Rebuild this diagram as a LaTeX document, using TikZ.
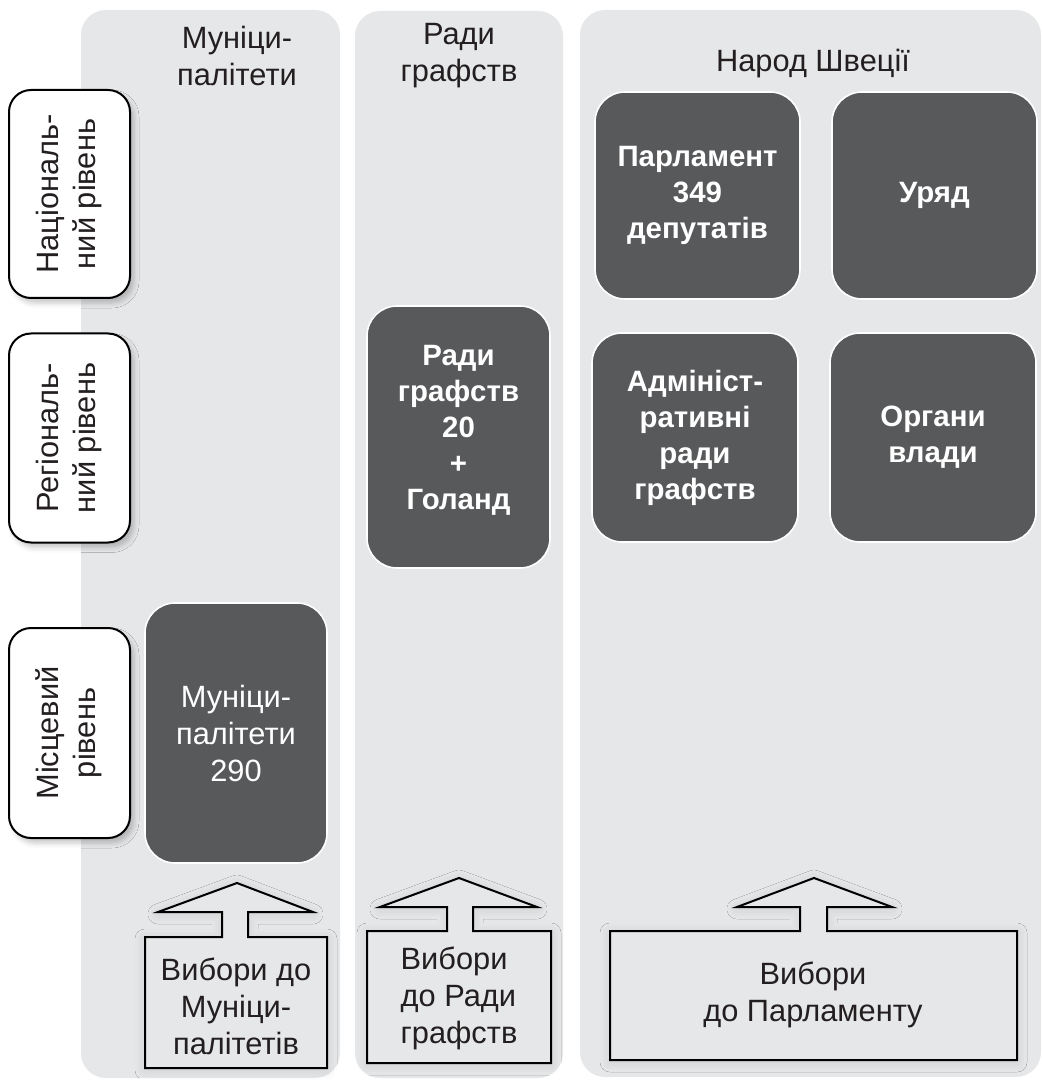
\documentclass[tikz,border=0pt]{standalone}
\usepackage{fontspec}
\setmainfont{Liberation Sans}
\usetikzlibrary{shadows.blur}
\definecolor{panelgray}{HTML}{E6E7E8}
\definecolor{darkbox}{HTML}{58595B}
\definecolor{txtcol}{HTML}{231F20}
\newcommand\fsz{\fontsize{15.4}{18.5}\selectfont}
\newcommand\fszb{\fontsize{14.7}{18}\selectfont\bfseries}
\newcommand\lvltext[1]{\rotatebox{90}{\begin{tabular}{@{}c@{}}#1\end{tabular}}}
\begin{document}
\begin{tikzpicture}[x=0.5pt,y=-0.5pt,
  panel/.style={fill=panelgray, draw=none, rounded corners=12.5pt},
  levelbox/.style={draw=black, line width=1pt, fill=white, rounded corners=11pt,
    inner sep=0pt, font=\fsz, text=txtcol,
    blur shadow={shadow xshift=2pt, shadow yshift=-2.5pt, shadow blur radius=2.5pt, shadow opacity=22}},
  darkb/.style={draw=white, line width=0.8pt, fill=darkbox, rounded corners=15pt,
    inner sep=0pt, align=center, text=white, font=\fszb},
  title/.style={align=center, text=txtcol, font=\fsz, inner sep=0pt},
  votebox/.style={draw=black, line width=1pt, fill=panelgray, line join=miter,
    blur shadow={shadow xshift=0pt, shadow yshift=-1pt, shadow blur radius=5pt, shadow opacity=12}},
  votetext/.style={align=center, text=txtcol, font=\fsz, inner sep=0pt}
]
\useasboundingbox (0,0) rectangle (1041,1080);
\clip (0,0) rectangle (1041,1080);

% panels
\path[panel] (81,10) rectangle (340,1078);
\path[panel] (355,11) rectangle (563,1078);
\path[panel] (580,10) rectangle (1041,1077);

% column titles
\node[title] (t1) at (237,56) {Муніци-\\палітети};
\node[title] (t2) at (459,56) {Ради\\графств};
\node[title] (t3) at (813,64) {Народ Швеції};

% level boxes
\node[levelbox, minimum width=60.5pt, minimum height=104pt] (lnat) at (69.5,194) {\lvltext{Національ-\\ний рівень}};
\node[levelbox, minimum width=60.5pt, minimum height=104.5pt] (lreg) at (69.5,438) {\lvltext{Регіональ-\\ний рівень}};
\node[levelbox, minimum width=60.5pt, minimum height=105pt] (lloc) at (69.5,733) {\lvltext{Місцевий\\рівень}};

% dark boxes
\node[darkb, minimum width=91pt, minimum height=130pt, font=\fsz] (mun) at (236,733) {Муніци-\\палітети\\290};
\node[darkb, minimum width=91.5pt, minimum height=131pt] (cty) at (458.5,437) {Ради\\графств\\20\\+\\Голанд\\[-8.5pt]};
\node[darkb, minimum width=102.5pt, minimum height=103.5pt] (parl) at (697.5,195.5) {Парламент\\349\\депутатів};
\node[darkb, minimum width=102.5pt, minimum height=103.5pt] (gov) at (934.5,195.5) {Уряд};
\node[darkb, minimum width=103pt, minimum height=104.5pt] (adm) at (695,437.5) {Адмініст-\\ративні\\ради\\графств};
\node[darkb, minimum width=103pt, minimum height=104.5pt] (auth) at (933,437.5) {Органи\\влади};

% election arrows
\path[votebox] (145,937) -- (222,937) -- (222,912) -- (158,912) -- (237,883) -- (313,912)
  -- (248,912) -- (248,937) -- (327,937) -- (327,1068) -- (145,1068) -- cycle;
\path[votebox] (367,931) -- (447,931) -- (447,907) -- (380,907) -- (459,878) -- (537,907)
  -- (473,907) -- (473,931) -- (551,931) -- (551,1063) -- (367,1063) -- cycle;
\path[votebox] (610,931) -- (800,931) -- (800,907) -- (737,907) -- (814,878) -- (892,907)
  -- (827,907) -- (827,931) -- (1017,931) -- (1017,1060) -- (610,1060) -- cycle;

\node[votetext] (v1) at (236,1006) {Вибори до\\Муніци-\\палітетів};
\node[votetext, align=left] (v2) at (459,998) {Вибори\\до Ради\\графств};
\node[votetext] (v3) at (813,995) {Вибори\\до Парламенту};
\end{tikzpicture}
\end{document}
